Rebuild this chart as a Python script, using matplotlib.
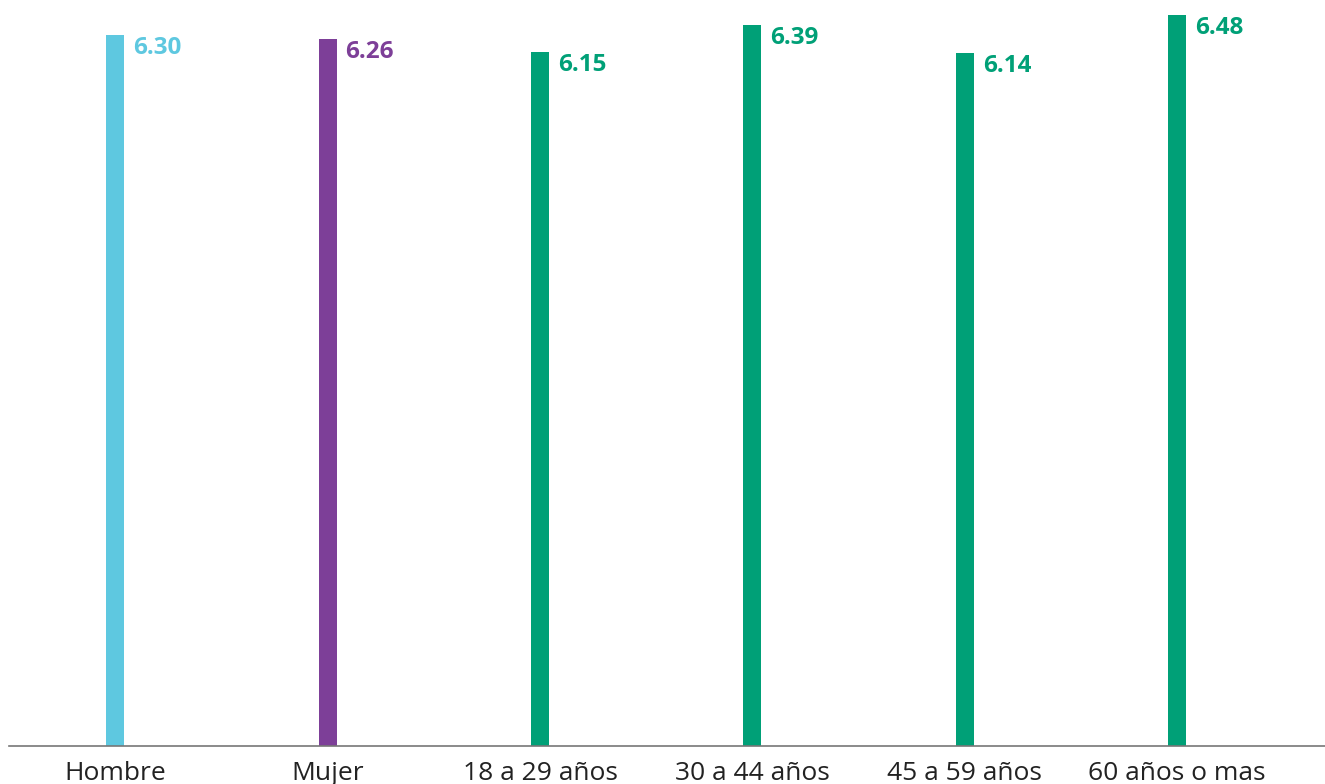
import matplotlib
matplotlib.use("Agg")
import matplotlib.pyplot as plt

categories = ["Hombre", "Mujer", "18 a 29 años", "30 a 44 años", "45 a 59 años", "60 años o mas"]
values = [6.30, 6.26, 6.15, 6.39, 6.14, 6.48]
colors = ["#5EC8E0", "#7D3F98", "#00A077", "#00A077", "#00A077", "#00A077"]
labels = ["6.30", "6.26", "6.15", "6.39", "6.14", "6.48"]

W, H = 1325, 784
fig = plt.figure(figsize=(W / 100, H / 100), dpi=100)
left_px, bottom_px = 9, 784 - 745.5
ax = fig.add_axes([left_px / W, bottom_px / H, 1 - left_px / W, 1 - bottom_px / H])

spacing = 212.4
xs = list(range(len(categories)))
bar_w = 18 / spacing
ax.bar(xs, values, width=bar_w, color=colors, zorder=2)

ax.set_xlim(-0.5, -0.5 + (W - left_px) / spacing)
ax.set_ylim(0, 745.5 / 112.8)

for x, v, c, lab in zip(xs, values, colors, labels):
    ax.annotate(lab, xy=(x + bar_w / 2, v), xytext=(9, -13), textcoords="offset pixels",
                ha="left", va="center", fontsize=17.5, fontweight="bold",
                color=c, family="Open Sans")

for s in ["top", "right", "left"]:
    ax.spines[s].set_visible(False)
ax.spines["bottom"].set_color("#777777")
ax.spines["bottom"].set_linewidth(1.2)
ax.set_yticks([])
ax.set_xticks(xs)
ax.set_xticklabels(categories, fontsize=19, color="#222222", family="Open Sans")
ax.tick_params(axis="x", length=0, pad=11)

fig.savefig("out.png", dpi=100)
